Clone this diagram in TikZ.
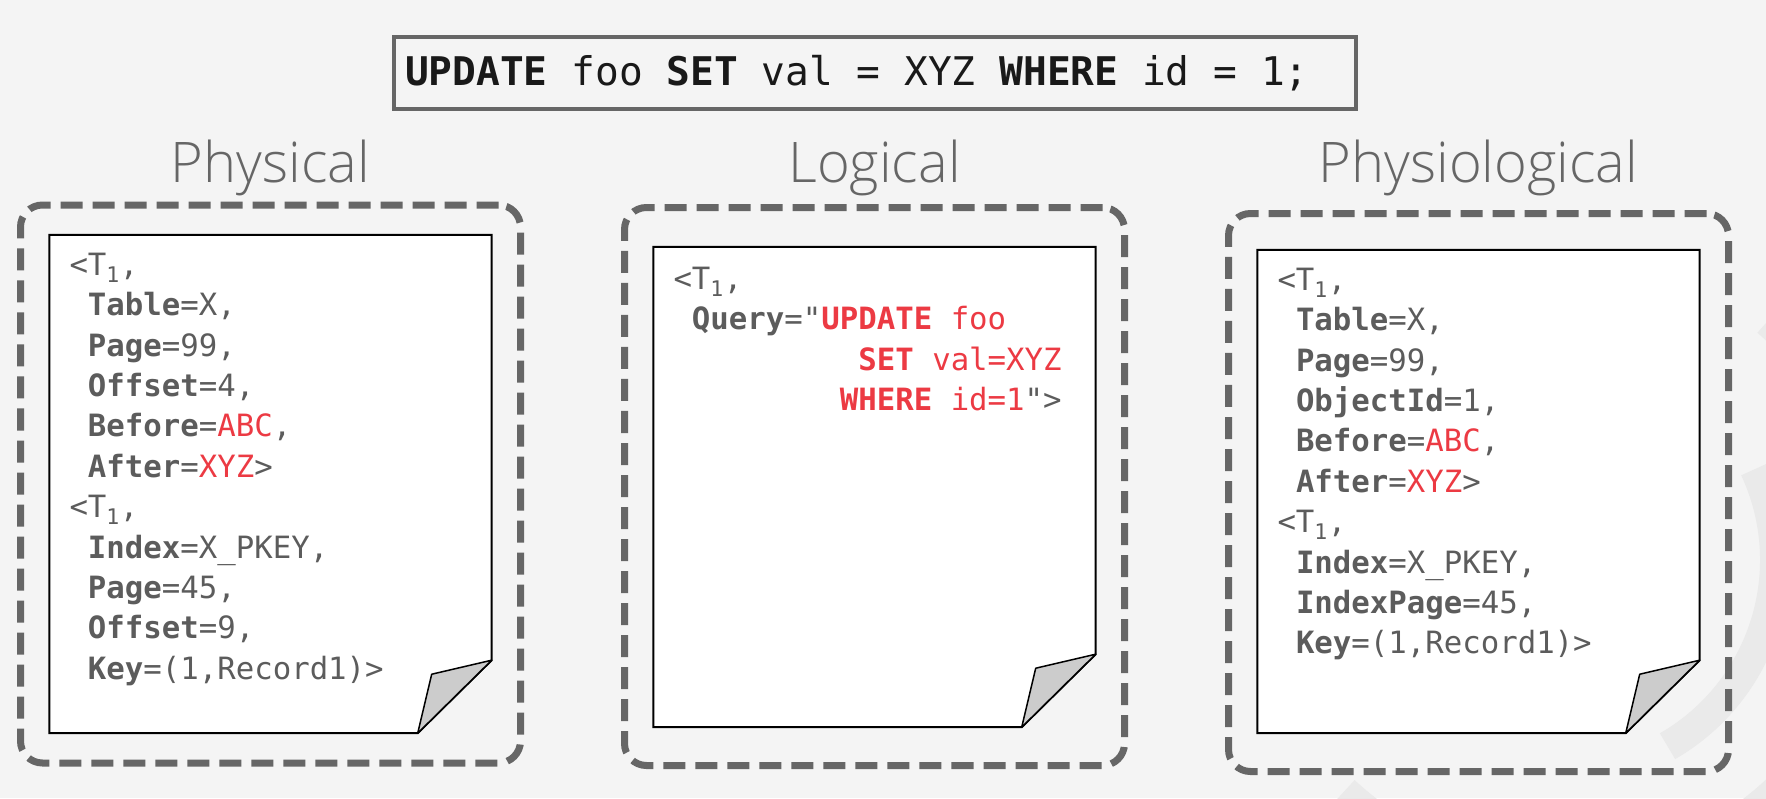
\documentclass[tikz,border=0pt]{standalone}
\usepackage{fontspec}
\usetikzlibrary{positioning,chains}
\setmainfont{Open Sans}
\newfontfamily\codefont{DejaVu Sans Mono}
\IfFontExistsTF{Open Sans Light}{\newfontfamily\titlefont{Open Sans Light}}{\newfontfamily\titlefont{Open Sans}}
\definecolor{bggray}{HTML}{F4F4F4}
\definecolor{markgray}{HTML}{EAEAEA}
\definecolor{framegray}{HTML}{666666}
\definecolor{txtgray}{HTML}{5C5C5C}
\definecolor{keyred}{HTML}{EC3A43}
\definecolor{foldgray}{HTML}{CCCCCC}
\newcommand{\kw}[1]{\textbf{#1}}
\newcommand{\rd}[1]{\textcolor{keyred}{#1}}
\newcommand{\ms}{\hphantom{0}}
\newcommand{\tone}{\rule{0pt}{22pt}<T\textsubscript{1},}
\newcommand{\pad}[1]{\hphantom{#1}}

\begin{document}
\begin{tikzpicture}
  [
    x=1pt, y=-1pt,
    every node/.style={inner sep=0pt},
    logframe/.style={draw=framegray, line width=7pt, dash pattern=on 22pt off 10pt, rounded corners=22pt, minimum width=500pt, minimum height=558pt},
    sheet/.style={minimum width=442pt},
    heading/.style={font=\titlefont\fontsize{56}{64}\selectfont, text=framegray, anchor=base},
    entry/.style={font=\codefont\fontsize{30.7}{40.4}\selectfont, text=txtgray, align=left, anchor=north west},
    querybox/.style={draw=framegray, line width=3.5pt, minimum width=962pt, minimum height=72pt, inner xsep=11pt, text width=940pt, align=left, font=\codefont\fontsize{39.5}{47}\selectfont, text=black!90},
    start chain=boxes going right,
    node distance=97pt,
  ]
  \useasboundingbox[fill=bggray] (0,0) rectangle (1766,798);
  % faint logo in the background
  \draw [markgray, line width=38pt] (1560,560) ++(-49:320) arc (-49:133:320);
  \draw [markgray, line width=30pt] (1560,560) ++(-25:215) arc (-25:60:215);

  % the three log records
  \node [on chain, logframe] (frame1) at (270.5,484) {};
  \node [on chain, logframe, yshift=-2.5pt] (frame2) {};
  \node [on chain, logframe, yshift=-6pt] (frame3) {};

  \node [sheet, minimum height=498pt] (paper1) at (frame1) {};
  \node [sheet, minimum height=480pt] (paper2) at ([yshift=-0.5pt]frame2) {};
  \node [sheet, minimum height=483pt] (paper3) at ([yshift=1pt]frame3) {};

  \foreach \p in {paper1,paper2,paper3} {
    \draw [fill=white, line width=2pt] (\p.north west) -- (\p.north east) -- ([yshift=73pt]\p.south east)
      -- ([xshift=-74pt]\p.south east) -- (\p.south west) -- cycle;
    \draw [fill=foldgray, line width=1.5pt, line join=round] ([xshift=-74pt]\p.south east)
      -- ([xshift=-60pt,yshift=59pt]\p.south east) -- ([yshift=73pt]\p.south east) -- cycle;
  }

  \node [entry] (rec1) at ([xshift=20pt,yshift=-18pt]paper1.north west) {\tone\\
    \pad{<}\kw{Table}=X,\\
    \pad{<}\kw{Page}=99,\\
    \pad{<}\kw{Offset}=4,\\
    \pad{<}\kw{Before}=\rd{ABC},\\
    \pad{<}\kw{After}=\rd{XYZ}>\\
    \tone\\
    \pad{<}\kw{Index}=X\_PKEY,\\
    \pad{<}\kw{Page}=45,\\
    \pad{<}\kw{Offset}=9,\\
    \pad{<}\kw{Key}=(1,Record1)>};
  \node [entry] (rec2) at ([xshift=20pt,yshift=-20pt]paper2.north west) {\tone\\
    \pad{<}\kw{Query}="\rd{\kw{UPDATE}\ms foo}\\
    \pad{<Query="UP}\rd{\kw{SET}\ms val=XYZ}\\
    \pad{<Query="U}\rd{\kw{WHERE}\ms id=1}">};
  \node [entry] (rec3) at ([xshift=20pt,yshift=-18pt]paper3.north west) {\tone\\
    \pad{<}\kw{Table}=X,\\
    \pad{<}\kw{Page}=99,\\
    \pad{<}\kw{ObjectId}=1,\\
    \pad{<}\kw{Before}=\rd{ABC},\\
    \pad{<}\kw{After}=\rd{XYZ}>\\
    \tone\\
    \pad{<}\kw{Index}=X\_PKEY,\\
    \pad{<}\kw{IndexPage}=45,\\
    \pad{<}\kw{Key}=(1,Record1)>};

  % titles
  \node [heading] (phys) at (frame1.north |- 0,182) {Physical};
  \node [heading] (logi) at (frame2.north |- 0,182) {Logical};
  \node [heading] (physio) at (frame3.north |- 0,182) {Physiological};

  \node [querybox] (query) at (875,73) {\kw{UPDATE}\ms foo\ms\kw{SET}\ms val\ms=\ms XYZ\ms\kw{WHERE}\ms id\ms=\ms 1;};
\end{tikzpicture}
\end{document}
